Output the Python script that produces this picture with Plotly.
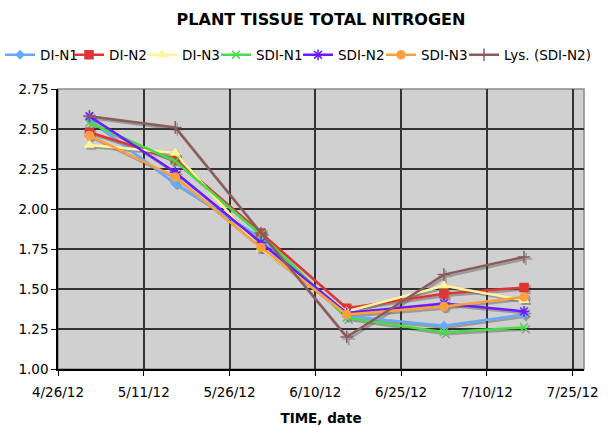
import plotly.graph_objects as go
import pandas as pd

dates = ["2012-05-01", "2012-05-16", "2012-05-31", "2012-06-15", "2012-07-02", "2012-07-16"]

di_n1 = [2.56, 2.16, 1.82, 1.33, 1.27, 1.34]
di_n2 = [2.48, 2.31, 1.85, 1.38, 1.47, 1.51]
di_n3 = [2.40, 2.35, 1.75, 1.36, 1.52, 1.43]
sdi_n1 = [2.54, 2.30, 1.84, 1.32, 1.23, 1.26]
sdi_n2 = [2.58, 2.23, 1.79, 1.35, 1.41, 1.36]
sdi_n3 = [2.46, 2.20, 1.76, 1.34, 1.39, 1.45]
lys_sdi_n2 = [2.58, 2.51, 1.85, 1.20, 1.59, 1.70]

series_names = ["DI-N1", "DI-N2", "DI-N3", "SDI-N1", "SDI-N2", "SDI-N3", "Lys. (SDI-N2)"]
series_values = [di_n1, di_n2, di_n3, sdi_n1, sdi_n2, sdi_n3, lys_sdi_n2]
colors = ["#66AAFF", "#E03535", "#FFF59A", "#44DD44", "#6A1BFF", "#FFA040", "#8C5C5C"]
symbols = ["diamond", "square", "triangle-up", "x-thin-open", "asterisk-open", "circle", "cross-thin-open"]
sizes = [6, 8, 8, 8, 9, 8, 9]

tick_dates = ["2012-04-26", "2012-05-11", "2012-05-26", "2012-06-10", "2012-06-25", "2012-07-10", "2012-07-25"]
y_ticks = [1.00, 1.25, 1.50, 1.75, 2.00, 2.25, 2.50, 2.75]

W, H = 609, 427
# plot region (px) incl. 2px room for the drop shadow
L, T, R, B = 58, 89, 586, 371
SH = 2
legend_text_x = [36, 110, 183, 257, 339, 422, 505]

# Excel date axis plots each day at the middle of its day bucket
x = pd.to_datetime(dates) + pd.Timedelta(hours=12)
xt = pd.to_datetime(tick_dates)
xrange_ = [pd.Timestamp("2012-04-26"), pd.Timestamp("2012-07-27")]

fig = go.Figure()
# drop shadows (own subplot, shifted down-right)
for vals, s, sz in zip(series_values, symbols, sizes):
    fig.add_trace(go.Scatter(
        x=x, y=vals, mode="lines+markers", showlegend=False, hoverinfo="skip",
        xaxis="x", yaxis="y", opacity=0.45,
        line=dict(color="#5a5a5a", width=2.5),
        marker=dict(symbol=s, size=sz, color="#5a5a5a", line=dict(color="#5a5a5a", width=1.5)),
    ))
# series
for i, (name, vals, c, s, sz) in enumerate(zip(series_names, series_values, colors, symbols, sizes)):
    fig.add_trace(go.Scatter(
        x=x, y=vals, name=name, mode="lines+markers",
        xaxis="x2", yaxis="y2",
        legend="legend" if i == 0 else f"legend{i + 1}",
        line=dict(color=c, width=2.5),
        marker=dict(symbol=s, size=sz, color=c, line=dict(color=c, width=1.5)),
    ))

font = "DejaVu Sans, Verdana, sans-serif"
pw, ph = R - L, B - T
layout = dict(
    width=W, height=H,
    margin=dict(l=L, r=W - R, t=T, b=H - B, autoexpand=False),
    paper_bgcolor="white",
    plot_bgcolor="rgba(0,0,0,0)",
    font=dict(family=font, size=13.5, color="black"),
    title=dict(text="<b>PLANT TISSUE TOTAL NITROGEN</b>", x=(L + R - SH) / 2 / W, xanchor="center",
               yref="container", y=1 - 19.5 / H, yanchor="middle", font=dict(size=16, family=font)),
    showlegend=True,
    xaxis=dict(domain=[SH / pw, 1], range=xrange_, visible=False),
    yaxis=dict(domain=[0, 1 - SH / ph], range=[1.0, 2.75], visible=False),
    xaxis2=dict(
        domain=[0, 1 - SH / pw], anchor="y2",
        range=xrange_,
        tickvals=xt, ticktext=[d.strftime("%-m/%-d/%y") for d in xt],
        showgrid=True, gridcolor="#333333", gridwidth=1.5,
        showline=True, linecolor="black", linewidth=1.5,
        ticks="outside", ticklen=5, tickcolor="black", tickwidth=1,
        ticklabelstandoff=5, zeroline=False,
        title=dict(text="<b>TIME, date</b>", font=dict(size=13.5), standoff=15),
    ),
    yaxis2=dict(
        domain=[SH / ph, 1], anchor="x2",
        range=[1.0, 2.75],
        tickvals=y_ticks, tickformat=".2f",
        showgrid=True, gridcolor="#333333", gridwidth=1.5,
        showline=True, linecolor="black", linewidth=1.5,
        ticks="outside", ticklen=5, tickcolor="black", tickwidth=1,
        zeroline=False,
    ),
    shapes=[
        dict(type="rect", xref="paper", yref="paper", x0=0, x1=1 - SH / pw, y0=SH / ph, y1=1,
             fillcolor="#D0D0D0", line=dict(width=0), layer="below"),
        dict(type="rect", xref="paper", yref="paper", x0=0, x1=1 - SH / pw, y0=SH / ph, y1=1,
             fillcolor="rgba(0,0,0,0)", line=dict(width=1.5, color="#8a8a8a"), layer="between"),
    ],
)
for i, tx in enumerate(legend_text_x):
    key = "legend" if i == 0 else f"legend{i + 1}"
    layout[key] = dict(
        orientation="h", xref="container", yref="container",
        x=(tx - 41) / W, xanchor="left", y=1 - 55 / H, yanchor="middle",
        font=dict(size=13.5, family=font), itemwidth=30,
        bgcolor="rgba(0,0,0,0)", borderwidth=0,
    )
fig.update_layout(**layout)

fig.write_html("out.html", config={"displayModeBar": False},
               post_script="document.body.style.margin='0';")
